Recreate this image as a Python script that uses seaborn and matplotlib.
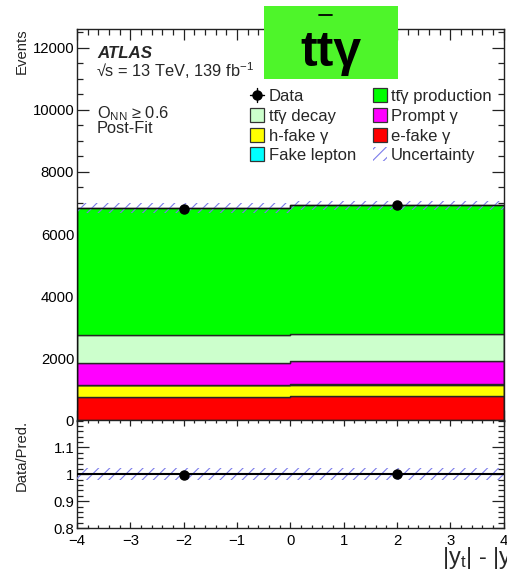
import numpy as np
import pandas as pd
import matplotlib
matplotlib.use("Agg")
import matplotlib.pyplot as plt
import seaborn as sns
from matplotlib.patches import Rectangle
from matplotlib.lines import Line2D
from matplotlib.ticker import MultipleLocator, FixedLocator, FuncFormatter

# ---------------- data ----------------
bin_edges = [-4.0, 0.0, 4.0]
bin_centers = [-2.0, 2.0]
processes = ["prod", "decay", "prompt", "fakelep", "hfake", "efake"]
labels = ["tt\u0304\u03b3 production", "tt\u0304\u03b3 decay", "Prompt \u03b3",
          "Fake lepton", "h-fake \u03b3", "e-fake \u03b3"]
colors = ["#00ff00", "#ccffcc", "#ff00ff", "#00ffff", "#ffff00", "#ff0000"]
prod = [4095, 4128]
decay = [900, 892]
prompt = [700, 728]
fakelep = [15, 15]
hfake = [370, 380]
efake = [760, 777]
data = [6815, 6925]
unc_frac = [0.022, 0.022]

values = {"prod": prod, "decay": decay, "prompt": prompt,
          "fakelep": fakelep, "hfake": hfake, "efake": efake}

rows = []
for p in processes:
    for c, v in zip(bin_centers, values[p]):
        rows.append({"x": c, "w": v, "proc": p})
df = pd.DataFrame(rows)

total = np.sum([np.array(values[p], float) for p in processes], axis=0)
data_a = np.array(data, float)
unc = np.array(unc_frac) * total

# ---------------- style ----------------
sns.set_style("ticks")
plt.rcParams["font.family"] = ["Liberation Sans", "DejaVu Sans"]
plt.rcParams["mathtext.fontset"] = "custom"
plt.rcParams["mathtext.rm"] = "Liberation Sans"
plt.rcParams["mathtext.it"] = "Liberation Sans:italic"
plt.rcParams["mathtext.bf"] = "Liberation Sans:bold"
plt.rcParams["hatch.linewidth"] = 0.8

W, H = 507, 577
fig = plt.figure(figsize=(W / 100, H / 100), dpi=100)

def fx(x):
    return x / W

def fy(y):
    return 1 - y / H

left, right = fx(77), fx(503.5)
ax = fig.add_axes([left, fy(420.5), right - left, fy(29) - fy(420.5)])
ax2 = fig.add_axes([left, fy(528), right - left, fy(420.5) - fy(528)])

hatch_col = "#7b7bea"

# ---------------- main panel ----------------
sns.histplot(data=df, x="x", weights="w", hue="proc", hue_order=processes,
             palette=dict(zip(processes, colors)), multiple="stack",
             bins=bin_edges, element="step", alpha=1, edgecolor="#262626",
             linewidth=1.0, legend=False, ax=ax)

lo = total - unc
hi = total + unc
ax.fill_between(bin_edges, np.r_[lo, lo[-1]], np.r_[hi, hi[-1]], step="post",
                facecolor="none", edgecolor=hatch_col, hatch="///",
                linewidth=0, zorder=5)
ax.stairs(total, bin_edges, color="#111111", lw=1.0, zorder=6)
ax.errorbar(bin_centers, data_a, yerr=np.sqrt(data_a), fmt="o", color="k",
            ms=6.5, elinewidth=1, capsize=0, zorder=10)

ax.set_xlim(-4, 4)
ax.set_ylim(0, 12600)
ax.set_xlabel("")
ax.set_ylabel("")
ax.yaxis.set_major_locator(MultipleLocator(2000))
ax.yaxis.set_minor_locator(MultipleLocator(500))
ax.xaxis.set_major_locator(MultipleLocator(1))
ax.xaxis.set_minor_locator(MultipleLocator(0.2))
ax.tick_params(axis="both", which="both", direction="in", top=True, right=True,
               width=0.9, colors="#222222", labelcolor="black")
ax.tick_params(axis="y", which="major", length=8.5, labelsize=10.7, pad=2)
ax.tick_params(axis="y", which="minor", length=4.3)
ax.tick_params(axis="x", which="major", length=8, labelbottom=False)
ax.tick_params(axis="x", which="minor", length=4)
for s in ax.spines.values():
    s.set_linewidth(1.0)
    s.set_color("#222222")

# ---------------- ratio panel ----------------
ratio = data_a / total
ratio_err = np.sqrt(data_a) / total
rlo = 1 - np.array(unc_frac)
rhi = 1 + np.array(unc_frac)
ax2.fill_between(bin_edges, np.r_[rlo, rlo[-1]], np.r_[rhi, rhi[-1]], step="post",
                 facecolor="none", edgecolor=hatch_col, hatch="///",
                 linewidth=0, zorder=3)
ax2.stairs(total / total, bin_edges, color="black", lw=1.5, zorder=4, baseline=None)
ax2.errorbar(bin_centers, ratio, yerr=ratio_err, fmt="o", color="k",
             ms=6.5, elinewidth=1, capsize=0, zorder=10)
ax2.set_xlim(-4, 4)
ax2.set_ylim(0.8, 1.2)
ax2.yaxis.set_major_locator(FixedLocator([0.8, 0.9, 1.0, 1.1]))
ax2.yaxis.set_minor_locator(MultipleLocator(0.02))
ax2.yaxis.set_major_formatter(FuncFormatter(lambda v, p: "%g" % round(v, 2)))
ax2.xaxis.set_major_locator(MultipleLocator(1))
ax2.xaxis.set_minor_locator(MultipleLocator(0.2))
ax2.tick_params(axis="both", which="both", direction="in", top=True, right=True,
                width=0.9, colors="#222222", labelcolor="black")
ax2.tick_params(axis="y", which="major", length=8.5, labelsize=10.7, pad=2)
ax2.tick_params(axis="y", which="minor", length=4.3)
ax2.tick_params(axis="x", which="major", length=4.5, labelsize=10.7, pad=4)
ax2.tick_params(axis="x", which="minor", length=2.3)
for s in ax2.spines.values():
    s.set_linewidth(1.0)
    s.set_color("#222222")

# ---------------- texts ----------------
fig.text(fx(22), fy(28), "Events", rotation=90, ha="center", va="top", fontsize=10.7)
fig.text(fx(22), fy(420), "Data/Pred.", rotation=90, ha="center", va="top", fontsize=10.7)
fig.text(fx(97), fy(58.5), "ATLAS", fontsize=12.2, fontweight="bold", style="italic",
         va="baseline")
fig.text(fx(96), fy(77), "\u221as = 13 TeV, 139 fb$^{-1}$", fontsize=11.8, va="baseline")
fig.text(fx(97), fy(118.5), "O$_{\\mathrm{NN}}$ \u2265 0.6", fontsize=11.8, va="baseline")
fig.text(fx(97), fy(132.7), "Post-Fit", fontsize=11.8, va="baseline")
fig.text(fx(442), fy(564), "|y$_{\\mathrm{t}}$| - |y$_{\\bar{\\mathrm{t}}}$|", fontsize=17,
         va="baseline", ha="left")

# ---------------- logo ----------------
fig.add_artist(Rectangle((fx(264), fy(79)), fx(398) - fx(264), fy(6) - fy(79),
                         transform=fig.transFigure, facecolor="#4ef52a",
                         edgecolor="none", zorder=20))
logo_fs = 36
logo = fig.text(fx(331), fy(66), "tt\u03b3", fontsize=logo_fs, fontweight="bold",
                ha="center", va="baseline", zorder=21, color="black")
renderer = fig.canvas.get_renderer()
bb = logo.get_window_extent(renderer)
tmp = fig.text(0, 0, "t", fontsize=logo_fs, fontweight="bold")
tw = tmp.get_window_extent(renderer).width
tmp.remove()
x_start = bb.x0
fig.add_artist(Line2D([(x_start + tw + 1.5) / W, (x_start + 2 * tw - 1.5) / W],
                      [fy(15), fy(15)], transform=fig.transFigure, color="black",
                      lw=1.3, zorder=22))

# ---------------- legend ----------------
row_y = [95, 115, 135, 154]
col_box = [250, 373]
col_txt = [269, 391]
bw, bh = 14, 14
entries = [
    (0, 0, "Data", "data"),
    (1, 0, labels[0], colors[0]),
    (0, 1, labels[1], colors[1]),
    (1, 1, labels[2], colors[2]),
    (0, 2, labels[4], colors[4]),
    (1, 2, labels[5], colors[5]),
    (0, 3, labels[3], colors[3]),
    (1, 3, "Uncertainty", "unc"),
]
for col, row, lab, sty in entries:
    yc = row_y[row]
    x0 = col_box[col]
    if sty == "data":
        xc = x0 + bw / 2
        fig.add_artist(Line2D([fx(x0), fx(x0 + bw)], [fy(yc), fy(yc)],
                              transform=fig.transFigure, color="k", lw=1))
        fig.add_artist(Line2D([fx(xc), fx(xc)], [fy(yc - 7), fy(yc + 7)],
                              transform=fig.transFigure, color="k", lw=1))
        fig.add_artist(Line2D([fx(xc)], [fy(yc)], transform=fig.transFigure,
                              marker="o", ms=6.5, color="k", lw=0))
    elif sty == "unc":
        fig.add_artist(Rectangle((fx(x0), fy(yc + bh / 2)), fx(bw), bh / H,
                                 transform=fig.transFigure, facecolor="none",
                                 edgecolor=hatch_col, hatch="///", lw=0))
    else:
        fig.add_artist(Rectangle((fx(x0), fy(yc + bh / 2)), fx(bw), bh / H,
                                 transform=fig.transFigure, facecolor=sty,
                                 edgecolor="#333333", lw=0.9))
    fig.text(fx(col_txt[col]), fy(yc), lab, fontsize=12, va="center_baseline",
             ha="left")

fig.savefig("out.png", dpi=100)
